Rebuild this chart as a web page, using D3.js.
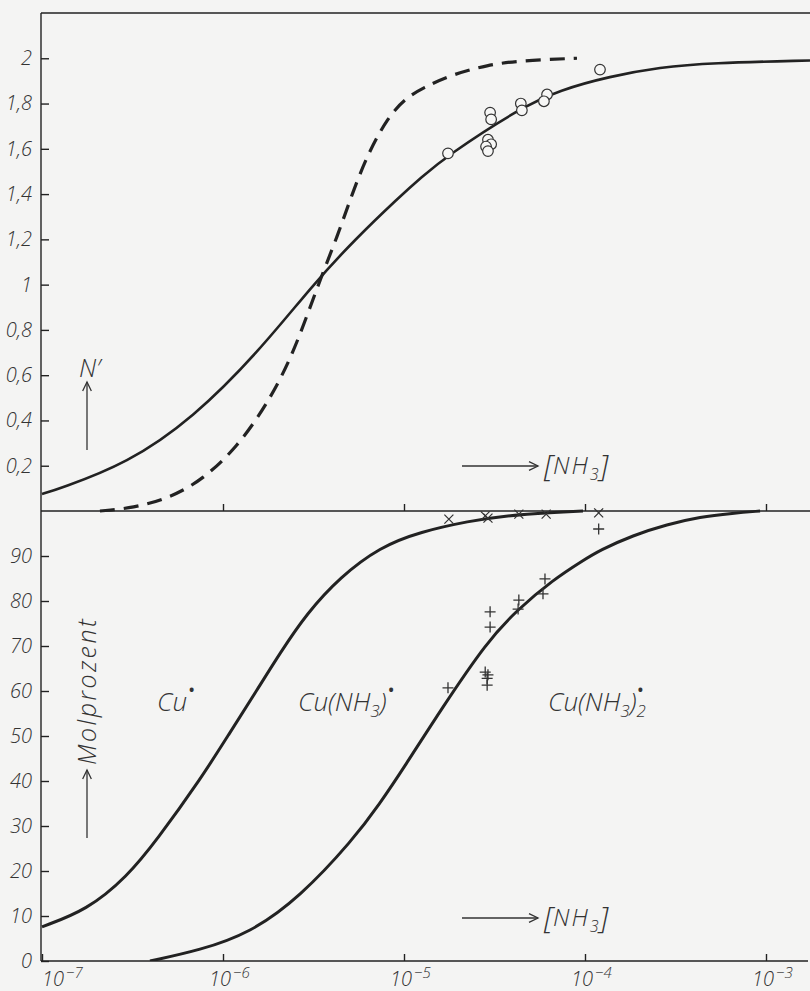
<!DOCTYPE html>
<html lang="de">
<head>
    <meta charset="UTF-8">
    <title>Cu-NH3</title>
    <script src="https://cdn.jsdelivr.net/npm/d3@7"></script>
    <style>
        body { margin: 0; background: #f4f4f3; }
        svg { display: block; }
        text { font-family: "Open Sans", "DejaVu Sans", sans-serif; font-style: italic; font-weight: 300; fill: #333; }
    </style>
</head>
<body>
<script>
    // [NH3] in mol/l
    const nSolid = [
        [1.0e-7, 0.075], [1.26e-7, 0.10], [2.95e-7, 0.21], [6.83e-7, 0.41], [1.60e-6, 0.71],
        [3.14e-6, 1.00], [5.36e-6, 1.20], [9.50e-6, 1.39], [1.23e-5, 1.47], [1.73e-5, 1.57],
        [4.38e-5, 1.78], [7.28e-5, 1.86], [1.37e-4, 1.92], [2.60e-4, 1.96], [4.91e-4, 1.98], [1.75e-3, 1.99]
    ]
    const nDashed = [
        [2.09e-7, 0.0], [3.18e-7, 0.013], [5.10e-7, 0.058], [7.77e-7, 0.14], [1.19e-6, 0.28],
        [1.75e-6, 0.47], [2.44e-6, 0.69], [3.35e-6, 1.00], [4.32e-6, 1.22], [5.16e-6, 1.40],
        [6.33e-6, 1.58], [8.16e-6, 1.74], [1.01e-5, 1.82], [1.27e-5, 1.87], [1.87e-5, 1.93],
        [2.88e-5, 1.97], [4.38e-5, 1.99], [9.03e-5, 2.00]
    ]
    const nMeasured = [
        [1.75e-5, 1.58], [2.99e-5, 1.76], [3.03e-5, 1.73], [2.91e-5, 1.64], [3.03e-5, 1.62],
        [2.84e-5, 1.61], [2.91e-5, 1.59], [4.42e-5, 1.80], [4.48e-5, 1.77], [6.17e-5, 1.84],
        [5.93e-5, 1.81], [1.21e-4, 1.95]
    ]
    const curveCu = [
        [1.0e-7, 7.6], [1.77e-7, 11.3], [2.95e-7, 18.7], [4.31e-7, 26.9], [7.46e-7, 40.2],
        [1.09e-6, 50.7], [1.54e-6, 60.2], [2.07e-6, 68.5], [2.91e-6, 77.3], [4.43e-6, 85.3],
        [7.36e-6, 92.0], [1.23e-5, 95.4], [2.32e-5, 97.8], [3.52e-5, 98.9], [6.66e-5, 99.7], [9.75e-5, 100]
    ]
    const curveCuNH3 = [
        [3.95e-7, 0], [7.46e-7, 2.4], [1.41e-6, 6.2], [2.66e-6, 14.2], [5.22e-6, 26.9],
        [7.36e-6, 35.0], [1.0e-5, 43.0], [1.62e-5, 56.2], [2.88e-5, 71.0], [4.21e-5, 78.0],
        [6.66e-5, 84.7], [9.75e-5, 89.0], [1.21e-4, 91.3], [1.84e-4, 94.6], [2.84e-4, 97.0],
        [4.32e-4, 98.7], [6.58e-4, 99.5], [9.27e-4, 100]
    ]
    const crosses = [
        [1.77e-5, 98.2], [2.81e-5, 98.9], [2.91e-5, 98.4], [4.31e-5, 99.3], [6.10e-5, 99.3], [1.19e-4, 99.6]
    ]
    const pluses = [
        [1.19e-4, 96.0], [6.01e-5, 84.9], [5.86e-5, 81.6], [4.31e-5, 80.2], [4.27e-5, 78.2],
        [2.99e-5, 77.6], [2.99e-5, 74.2], [2.81e-5, 64.2], [2.91e-5, 63.6], [2.88e-5, 62.8],
        [2.88e-5, 61.3], [1.75e-5, 60.7]
    ]
    const xTicks = [1e-7, 1e-6, 1e-5, 1e-4, 1e-3]
    const nTicks = [0.2, 0.4, 0.6, 0.8, 1, 1.2, 1.4, 1.6, 1.8, 2]
    const pctTicks = [0, 10, 20, 30, 40, 50, 60, 70, 80, 90]

    const [width, height] = [810, 991]
    const [padLeft, padTop, midY, baseY] = [41, 13, 511, 961]
    const ink = '#222'

    const svg = d3.select('body').append('svg')
        .attr('width', width)
        .attr('height', height)

    const x = d3.scaleLog().domain([1e-7, 1e-3]).range([padLeft + 1, padLeft + 1 + 4 * 181])
    const yN = d3.scaleLinear().domain([0, 2.2]).range([midY, padTop])
    const yP = d3.scaleLinear().domain([0, 100]).range([baseY, midY])

    svg.append('clipPath').attr('id', 'plot')
        .append('rect').attr('x', padLeft).attr('y', padTop).attr('width', width - padLeft).attr('height', baseY - padTop)

    const comma = d => String(d).replace('.', ',')

    // left axes, ticks pointing inward
    const styleAxis = g => {
        g.select('.domain').remove()
        g.selectAll('line').attr('stroke', ink).attr('stroke-width', 1.4)
        g.selectAll('text').attr('font-size', 20).attr('font-family', null).attr('fill', '#333')
    }
    svg.append('g').attr('transform', `translate(${padLeft},0)`)
        .call(d3.axisLeft(yN).tickValues(nTicks).tickFormat(comma).tickSize(-8).tickPadding(9))
        .call(styleAxis)
    svg.append('g').attr('transform', `translate(${padLeft},0)`)
        .call(d3.axisLeft(yP).tickValues(pctTicks).tickSize(-8).tickPadding(9))
        .call(styleAxis)

    // x axis at the bottom and ticks on the middle line
    svg.append('g').attr('transform', `translate(0,${baseY})`)
        .call(d3.axisBottom(x).tickValues(xTicks).tickFormat('').tickSize(-7).tickSizeOuter(0))
        .call(styleAxis)
    svg.append('g').attr('transform', `translate(0,${midY})`)
        .call(d3.axisBottom(x).tickValues(xTicks.slice(1)).tickFormat('').tickSize(-7).tickSizeOuter(0))
        .call(styleAxis)

    const xl = svg.append('g').selectAll('text').data(xTicks).join('text')
        .attr('x', (d, i) => x(d) + (i === 0 ? 0 : -14))
        .attr('y', 986)
        .attr('font-size', 20)
    xl.append('tspan').text('10')
    xl.append('tspan').attr('dy', -8).attr('dx', 2).attr('font-size', 15)
        .text(d => '\u2212' + (-Math.round(Math.log10(d))))

    // frame lines
    const frame = [
        [[padLeft, padTop], [width, padTop]],
        [[padLeft, padTop], [padLeft, baseY]],
        [[padLeft, midY], [width, midY]],
        [[padLeft, baseY], [808, baseY]]
    ]
    svg.append('g').selectAll('path').data(frame).join('path')
        .attr('d', d3.line())
        .attr('fill', 'none').attr('stroke', ink).attr('stroke-width', 1.4)

    const plot = svg.append('g').attr('clip-path', 'url(#plot)')
    const lineN = d3.line().x(d => x(d[0])).y(d => yN(d[1])).curve(d3.curveBasis)
    const lineP = d3.line().x(d => x(d[0])).y(d => yP(d[1])).curve(d3.curveBasis)

    plot.append('path').attr('d', lineN(nSolid))
        .attr('fill', 'none').attr('stroke', ink).attr('stroke-width', 2.6)
    plot.append('path').attr('d', lineN(nDashed))
        .attr('fill', 'none').attr('stroke', ink).attr('stroke-width', 3.2)
        .attr('stroke-dasharray', '15,9')
    plot.append('path').attr('d', lineP(curveCu))
        .attr('fill', 'none').attr('stroke', ink).attr('stroke-width', 3)
    plot.append('path').attr('d', lineP(curveCuNH3))
        .attr('fill', 'none').attr('stroke', ink).attr('stroke-width', 3)

    plot.append('g').selectAll('circle').data(nMeasured).join('circle')
        .attr('cx', d => x(d[0])).attr('cy', d => yN(d[1])).attr('r', 5.3)
        .attr('fill', '#f7f7f6').attr('stroke', '#333').attr('stroke-width', 1.2)

    const cs = 4.5
    plot.append('g').selectAll('path').data(crosses).join('path')
        .attr('d', d => {
            const [cx, cy] = [x(d[0]), yP(d[1])]
            return `M${cx - cs},${cy - cs}L${cx + cs},${cy + cs}M${cx - cs},${cy + cs}L${cx + cs},${cy - cs}`
        })
        .attr('stroke', '#333').attr('stroke-width', 1.2)
    const ps = 5.5
    plot.append('g').selectAll('path').data(pluses).join('path')
        .attr('d', d => {
            const [cx, cy] = [x(d[0]), yP(d[1])]
            return `M${cx - ps},${cy}L${cx + ps},${cy}M${cx},${cy - ps}L${cx},${cy + ps}`
        })
        .attr('stroke', '#333').attr('stroke-width', 1.3)

    // arrows and axis names
    const arrow = (x1, y1, x2, y2) => {
        const a = Math.atan2(y2 - y1, x2 - x1), h = 10
        const g = svg.append('g').attr('stroke', '#333').attr('stroke-width', 1.3).attr('fill', 'none')
        g.append('path').attr('d', `M${x1},${y1}L${x2},${y2}`)
        g.append('path').attr('d',
            `M${x2 - h * Math.cos(a - 0.45)},${y2 - h * Math.sin(a - 0.45)}L${x2},${y2}` +
            `L${x2 - h * Math.cos(a + 0.45)},${y2 - h * Math.sin(a + 0.45)}`)
    }
    const nh3 = (xx, yy) => {
        const t = svg.append('text').attr('x', xx).attr('y', yy).attr('font-size', 24)
        t.append('tspan').attr('font-size', 30).attr('dy', 2).text('[')
        t.append('tspan').attr('dy', -2).attr('letter-spacing', 2).text('NH')
        t.append('tspan').attr('font-size', 16).attr('dy', 6).text('3')
        t.append('tspan').attr('font-size', 30).attr('dy', -4).attr('dx', 1).text(']')
    }
    arrow(462, 466, 538, 466)
    nh3(544, 474)
    arrow(462, 918, 538, 918)
    nh3(544, 926)

    arrow(87, 450, 87, 382)
    svg.append('text').attr('x', 79).attr('y', 377).attr('font-size', 25).text('N\u2032')

    arrow(87, 838, 87, 770)
    svg.append('text').attr('transform', 'translate(96,765) rotate(-90)')
        .attr('font-size', 25).attr('letter-spacing', 2.5).text('Molprozent')

    // species labels
    const species = (xx, yy, sub, dotDx) => {
        const t = svg.append('text').attr('x', xx).attr('y', yy).attr('font-size', 26)
        t.append('tspan').text(sub ? 'Cu(NH' : 'Cu')
        if (sub) {
            t.append('tspan').attr('font-size', 17).attr('dy', 6).text('3')
            t.append('tspan').attr('dy', -6).text(')')
            if (sub === 2) t.append('tspan').attr('font-size', 17).attr('dy', 6).text('2')
        }
        t.append('tspan').attr('font-size', 14).attr('font-style', 'normal').attr('font-weight', 700)
            .attr('dx', dotDx).attr('dy', sub === 2 ? -22 : -16).text('\u2022')
    }
    species(157, 711, 0, 2)
    species(298, 711, 1, 2)
    species(548, 711, 2, -8)
</script>
</body>
</html>
